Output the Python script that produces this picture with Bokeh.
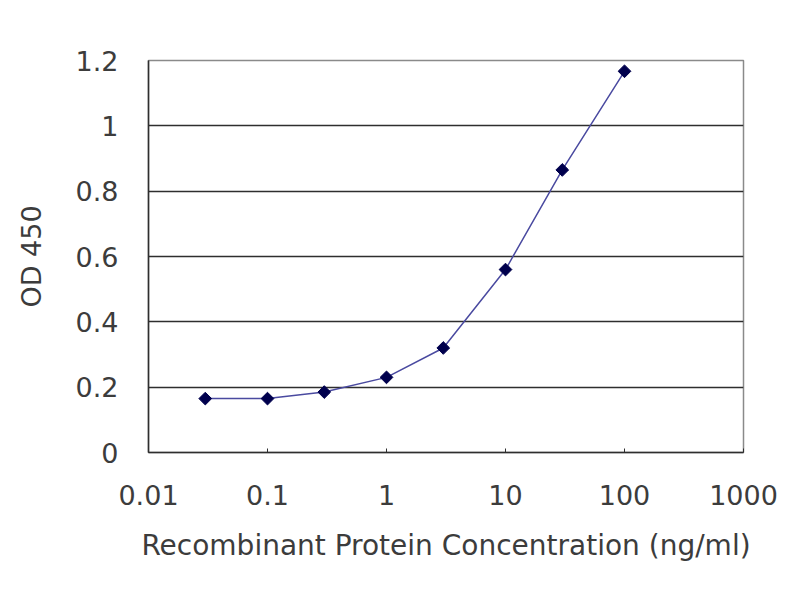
import math
from bokeh.plotting import figure
from bokeh.embed import file_html
from bokeh.resources import INLINE
from bokeh.models import ColumnDataSource, FixedTicker, CustomJSTickFormatter, Range1d

# data
conc = [0.03, 0.1, 0.3, 1, 3, 10, 30, 100]
od450 = [0.165, 0.165, 0.185, 0.23, 0.32, 0.56, 0.865, 1.167]
x_ticks = [0.01, 0.1, 1, 10, 100, 1000]
y_ticks = [0, 0.2, 0.4, 0.6, 0.8, 1.0, 1.2]

FONT = "DejaVu Sans"
TXT = "#3c3c3c"

p = figure(width=792, height=592, x_axis_type="log", output_backend="svg",
           toolbar_location=None, tools="",
           x_range=Range1d(0.01, 1000), y_range=Range1d(0, 1.2),
           min_border_left=148, min_border_right=49, min_border_top=60, min_border_bottom=140)

p.background_fill_color = "white"
p.border_fill_color = "white"
p.outline_line_color = "#8a8a8a"
p.outline_line_width = 1.5

#Grid
p.xgrid.grid_line_color = None
p.ygrid.ticker = FixedTicker(ticks=y_ticks[1:-1])
p.ygrid.grid_line_color = "#2e2e2e"
p.ygrid.grid_line_width = 1.5

#Axes
p.xaxis.ticker = FixedTicker(ticks=x_ticks)
p.xaxis.formatter = CustomJSTickFormatter(code="return tick.toString();")
p.yaxis.ticker = FixedTicker(ticks=y_ticks)
p.yaxis.formatter = CustomJSTickFormatter(code="return (Math.round(tick*10)/10).toString();")

for ax in (p.xaxis, p.yaxis):
    ax.axis_line_color = "#2e2e2e"
    ax.axis_line_width = 1.5
    ax.major_tick_line_color = "#2e2e2e"
    ax.major_tick_in = 4
    ax.major_tick_out = 0
    ax.minor_tick_line_color = None
    ax.major_label_text_font = FONT
    ax.major_label_text_font_size = "27px"
    ax.major_label_text_color = TXT
    ax.axis_label_text_font = FONT
    ax.axis_label_text_font_size = "27px"
    ax.axis_label_text_font_style = "normal"
    ax.axis_label_text_color = TXT

p.yaxis.major_tick_in = 0
p.xaxis.axis_label = "Recombinant Protein Concentration (ng/ml)"
p.xaxis.axis_label_text_font_size = "28px"
p.yaxis.axis_label = "OD 450"
p.xaxis.major_label_standoff = 32
p.xaxis.axis_label_standoff = 21
p.yaxis.major_label_standoff = 30
p.yaxis.axis_label_standoff = 26

#Render
source = ColumnDataSource(data=dict(conc=conc, od=od450))
p.line(x="conc", y="od", source=source, line_color="#4a4aa0", line_width=1.5)
p.scatter(x="conc", y="od", source=source, marker="square", size=9, angle=math.pi/4,
          fill_color="#00004d", line_color="#00004d")

open("out.html", "w").write(file_html(p, INLINE))
